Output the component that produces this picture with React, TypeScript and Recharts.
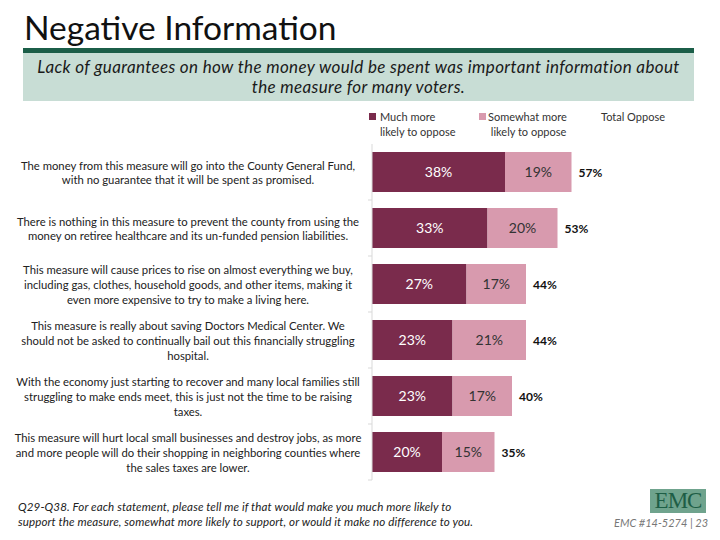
import { BarChart, Bar, XAxis, YAxis, LabelList } from "recharts";

const statements = [
  ["The money from this measure will go into the County General Fund,", "with no guarantee that it will be spent as promised."],
  ["There is nothing in this measure to prevent the county from using the", "money on retiree healthcare and its un-funded pension liabilities."],
  ["This measure will cause prices to rise on almost everything we buy,", "including gas, clothes, household goods, and other items, making it", "even more expensive to try to make a living here."],
  ["This measure is really about saving Doctors Medical Center.  We", "should not be asked to continually bail out this financially struggling", "hospital."],
  ["With the economy just starting to recover and many local families still", "struggling to make ends meet, this is just not the time to be raising", "taxes."],
  ["This measure will hurt local small businesses and destroy jobs, as more", "and more people will do their shopping in neighboring counties where", "the sales taxes are lower."],
];
const muchMore = [38, 33, 27, 23, 23, 20];
const somewhatMore = [19, 20, 17, 21, 17, 15];
const totalOppose = [57, 53, 44, 44, 40, 35];

const DARK = "#7A2B4C";
const LIGHT = "#D89AAE";
const FONT = "Lato, 'Open Sans', sans-serif";

const data = statements.map((s, i) => ({
  id: String(i),
  much: muchMore[i],
  somewhat: somewhatMore[i],
  total: totalOppose[i],
}));

function StatementTick(props: any) {
  const { y, payload } = props;
  const lines = statements[Number(payload.value)];
  const lh = 14.6;
  const start = y - ((lines.length - 1) * lh) / 2;
  return (
    <g>
      <line x1={368} x2={372} y1={y + 28} y2={y + 28} stroke="#D9D9D9" />
      <text x={188} y={start} textAnchor="middle" fontSize={11.3} fill="#222" fontFamily={FONT} dominantBaseline="central">
        {lines.map((l, k) => (
          <tspan key={k} x={188} y={start + k * lh}>{l}</tspan>
        ))}
      </text>
    </g>
  );
}

function TotalLabel(props: any) {
  const { x, y, width, height, index } = props;
  return (
    <text x={x + width + 7} y={y + height / 2} dominantBaseline="central" fontSize={12} fontWeight={700} fill="#111" fontFamily={FONT}>
      {totalOppose[index]}%
    </text>
  );
}

export default function App() {
  return (
    <div style={{ position: "absolute", left: 0, top: 0, width: 720, height: 540, background: "#fff", fontFamily: FONT, overflow: "hidden" }}>
      <div style={{ position: "absolute", left: 24, top: 7, fontSize: 33.5, color: "#111", lineHeight: "40px" }}>Negative Information</div>
      <div style={{ position: "absolute", left: 23, top: 48, width: 671, height: 5, background: "#1B5E48" }} />
      <div style={{ position: "absolute", left: 23, top: 53, width: 671, height: 48, background: "#C8DDD5", textAlign: "center", fontStyle: "italic", fontSize: 17, letterSpacing: 0.35, lineHeight: "20px", color: "#1a1a1a", paddingTop: 4, boxSizing: "border-box" }}>
        Lack of guarantees on how the money would be spent was important information about
        <br />
        the measure for many voters.
      </div>

      <div style={{ position: "absolute", left: 369, top: 113, width: 7, height: 7, background: DARK }} />
      <div style={{ position: "absolute", left: 380, top: 109, fontSize: 11, lineHeight: "15px", color: "#333" }}>Much more<br />likely to oppose</div>
      <div style={{ position: "absolute", left: 479, top: 113, width: 7, height: 7, background: LIGHT }} />
      <div style={{ position: "absolute", left: 488, top: 109, fontSize: 11, lineHeight: "15px", color: "#333" }}>Somewhat more<br />&nbsp;likely to oppose</div>
      <div style={{ position: "absolute", left: 601, top: 109, fontSize: 11, lineHeight: "15px", color: "#333" }}>Total Oppose</div>

      <div style={{ position: "absolute", left: 0, top: 0 }}>
        <BarChart width={720} height={540} layout="vertical" data={data} margin={{ top: 144, bottom: 60, left: 12, right: 138 }} barSize={40}>
          <XAxis type="number" domain={[0, 60]} hide />
          <YAxis type="category" dataKey="id" width={360} axisLine={{ stroke: "#D9D9D9" }} tickLine={false} tick={<StatementTick />} interval={0} />
          <Bar dataKey="much" stackId="a" fill={DARK} isAnimationActive={false}>
            <LabelList dataKey="much" position="center" formatter={(v: any) => `${v}%`} fill="#fff" fontSize={14} fontFamily={FONT} />
          </Bar>
          <Bar dataKey="somewhat" stackId="a" fill={LIGHT} isAnimationActive={false}>
            <LabelList dataKey="somewhat" position="center" formatter={(v: any) => `${v}%`} fill="#333" fontSize={14} fontFamily={FONT} />
            <LabelList dataKey="total" content={<TotalLabel />} />
          </Bar>
        </BarChart>
      </div>

      <div style={{ position: "absolute", left: 18, top: 499, fontSize: 11.6, letterSpacing: 0.1, lineHeight: "15px", fontStyle: "italic", color: "#222" }}>
        Q29-Q38. For each statement, please tell me if that would make you much more likely to
        <br />
        support the measure, somewhat more likely to support, or would it make no difference to you.
      </div>
      <div style={{ position: "absolute", left: 650, top: 489, width: 56, height: 24, background: "#6FA38D", color: "#1E5E46", fontFamily: "'Liberation Serif', serif", fontSize: 23, lineHeight: "24px", textAlign: "center", letterSpacing: -1 }}>EMC</div>
      <div style={{ position: "absolute", left: 614, top: 516, fontSize: 11, fontStyle: "italic", color: "#777" }}>EMC #14-5274 | 23</div>
    </div>
  );
}
